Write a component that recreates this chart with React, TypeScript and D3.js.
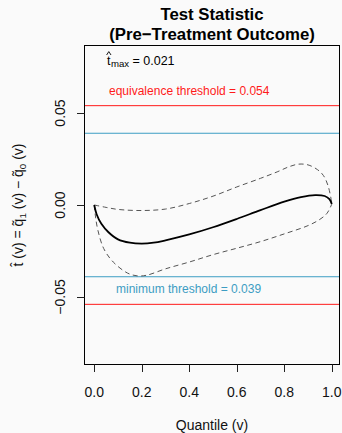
import React from "react";
import * as d3 from "d3";

// ---- data ----
const quantiles = [0, 0.01, 0.03, 0.06, 0.1, 0.15, 0.2, 0.25, 0.3, 0.4, 0.5, 0.6, 0.7, 0.8, 0.87, 0.93, 0.97, 0.99, 1.0];
const statValues = [0, -0.005, -0.0102, -0.0148, -0.0187, -0.0205, -0.021, -0.0205, -0.0192, -0.016, -0.0121, -0.0076, -0.0028, 0.0018, 0.0043, 0.0054, 0.0049, 0.0032, 0.0005];

const upperQ = [0, 0.05, 0.1, 0.2, 0.3, 0.4, 0.5, 0.6, 0.7, 0.77, 0.82, 0.86, 0.9, 0.94, 0.965, 0.985, 1.0];
const upperValues = [0, -0.0013, -0.0024, -0.003, -0.0022, 0.0008, 0.0048, 0.0098, 0.0145, 0.018, 0.0208, 0.0222, 0.0218, 0.0192, 0.016, 0.0102, 0.0012];

const lowerQ = [0, 0.005, 0.015, 0.04, 0.08, 0.14, 0.18, 0.22, 0.3, 0.4, 0.5, 0.6, 0.7, 0.8, 0.9, 0.95, 0.98, 1.0];
const lowerValues = [0, -0.006, -0.0135, -0.0237, -0.031, -0.037, -0.0385, -0.0382, -0.0347, -0.031, -0.027, -0.0235, -0.0199, -0.0157, -0.0112, -0.0078, -0.0045, 0.0005];

const equivalenceThreshold = 0.054;
const minimumThreshold = 0.039;
const tMax = "0.021";

const xTicks = [0, 0.2, 0.4, 0.6, 0.8, 1.0];
const yTicks = [-0.05, 0, 0.05];

const titleLines = ["Test Statistic", "(Pre\u2212Treatment Outcome)"];
const xLabel = "Quantile (v)";

// ---- layout ----
const W = 342;
const H = 433;
const L = 84.5, R = 339.5, T = 45.5, B = 364.5;
const FONT = "'Liberation Sans', Arial, Helvetica, sans-serif";
const RED = "#ff1a1a";
const BLUE = "#3d9dc3";

export default function App() {
  const x = d3.scaleLinear().domain([-0.041, 1.0325]).range([L, R]);
  const y = d3.scaleLinear().domain([-0.0867, 0.0867]).range([B, T]);

  const line = d3
    .line<[number, number]>()
    .x((d) => x(d[0]))
    .y((d) => y(d[1]))
    .curve(d3.curveCatmullRom.alpha(0.5));

  const stat = quantiles.map((q, i) => [q, statValues[i]] as [number, number]);
  const upper = upperQ.map((q, i) => [q, upperValues[i]] as [number, number]);
  const lower = lowerQ.map((q, i) => [q, lowerValues[i]] as [number, number]);

  const cx = (L + R) / 2;
  const yTitleY = (T + B) / 2;

  return (
    <svg width={W} height={H} style={{ position: "absolute", left: 0, top: 0, background: "#fafafa" }} fontFamily={FONT}>
      <rect x={0} y={0} width={W} height={H} fill="#fafafa" />
      <defs>
        <clipPath id="plotclip">
          <rect x={L} y={T} width={R - L} height={B - T} />
        </clipPath>
      </defs>

      {/* titles */}
      <text x={cx} y={19.5} textAnchor="middle" fontSize={16.8} fontWeight="bold" fill="#000">{titleLines[0]}</text>
      <text x={cx} y={40} textAnchor="middle" fontSize={16.8} fontWeight="bold" fill="#000">{titleLines[1]}</text>

      {/* threshold lines */}
      <g clipPath="url(#plotclip)">
        <line x1={L} x2={R} y1={y(equivalenceThreshold)} y2={y(equivalenceThreshold)} stroke={RED} strokeWidth={1} />
        <line x1={L} x2={R} y1={y(-equivalenceThreshold)} y2={y(-equivalenceThreshold)} stroke={RED} strokeWidth={1} />
        <line x1={L} x2={R} y1={y(minimumThreshold)} y2={y(minimumThreshold)} stroke={BLUE} strokeWidth={1} />
        <line x1={L} x2={R} y1={y(-minimumThreshold)} y2={y(-minimumThreshold)} stroke={BLUE} strokeWidth={1} />

        <path d={line(upper) || ""} fill="none" stroke="#555" strokeWidth={1} strokeDasharray="5,3.5" />
        <path d={line(lower) || ""} fill="none" stroke="#555" strokeWidth={1} strokeDasharray="5,3.5" />
        <path d={line(stat) || ""} fill="none" stroke="#000" strokeWidth={1.8} />
      </g>

      {/* annotations */}
      <text x={107} y={64.5} fontSize={12.5} fill="#000">t</text>
      <path d="M106.6,55 L108.8,51.6 L111,55" fill="none" stroke="#000" strokeWidth={0.9} />
      <text x={111} y={67} fontSize={9.6} fill="#000">max</text>
      <text x={132.5} y={64.5} fontSize={12.5} fill="#000">= {tMax}</text>

      <text x={109} y={95} fontSize={12} fill={RED}>{`equivalence threshold = ${equivalenceThreshold.toFixed(3)}`}</text>
      <text x={116} y={293} fontSize={12} fill={BLUE}>{`minimum threshold = ${minimumThreshold.toFixed(3)}`}</text>

      {/* box */}
      <rect x={L} y={T} width={R - L} height={B - T} fill="none" stroke="#000" strokeWidth={1} />

      {/* x axis */}
      <g>
        {xTicks.map((t) => (
          <g key={t}>
            <line x1={Math.round(x(t)) + 0.5} x2={Math.round(x(t)) + 0.5} y1={B} y2={B + 7.5} stroke="#222" />
            <text x={x(t)} y={396.5} textAnchor="middle" fontSize={14} fill="#111">{t.toFixed(1)}</text>
          </g>
        ))}
        <text x={cx} y={430} textAnchor="middle" fontSize={14} fill="#111">{xLabel}</text>
      </g>

      {/* y axis */}
      <g>
        {yTicks.map((t) => (
          <g key={t}>
            <line x1={L - 7.5} x2={L} y1={Math.round(y(t)) + 0.5} y2={Math.round(y(t)) + 0.5} stroke="#222" />
            <text transform={`translate(64.5,${y(t)}) rotate(-90)`} textAnchor="middle" fontSize={14} fill="#111">
              {t === 0 ? "0.00" : (t < 0 ? "\u2212" : "") + Math.abs(t).toFixed(2)}
            </text>
          </g>
        ))}
        <text transform={`translate(23,${yTitleY}) rotate(-90)`} textAnchor="middle" fontSize={14} fill="#111">
          <tspan>{"t\u0302 (v) = q\u0303"}</tspan>
          <tspan fontSize={9.8} dy={2.5}>1</tspan>
          <tspan dy={-2.5}>{" (v) \u2212 q\u0303"}</tspan>
          <tspan fontSize={9.8} dy={2.5}>0</tspan>
          <tspan dy={-2.5}>{" (v)"}</tspan>
        </text>
      </g>
    </svg>
  );
}
